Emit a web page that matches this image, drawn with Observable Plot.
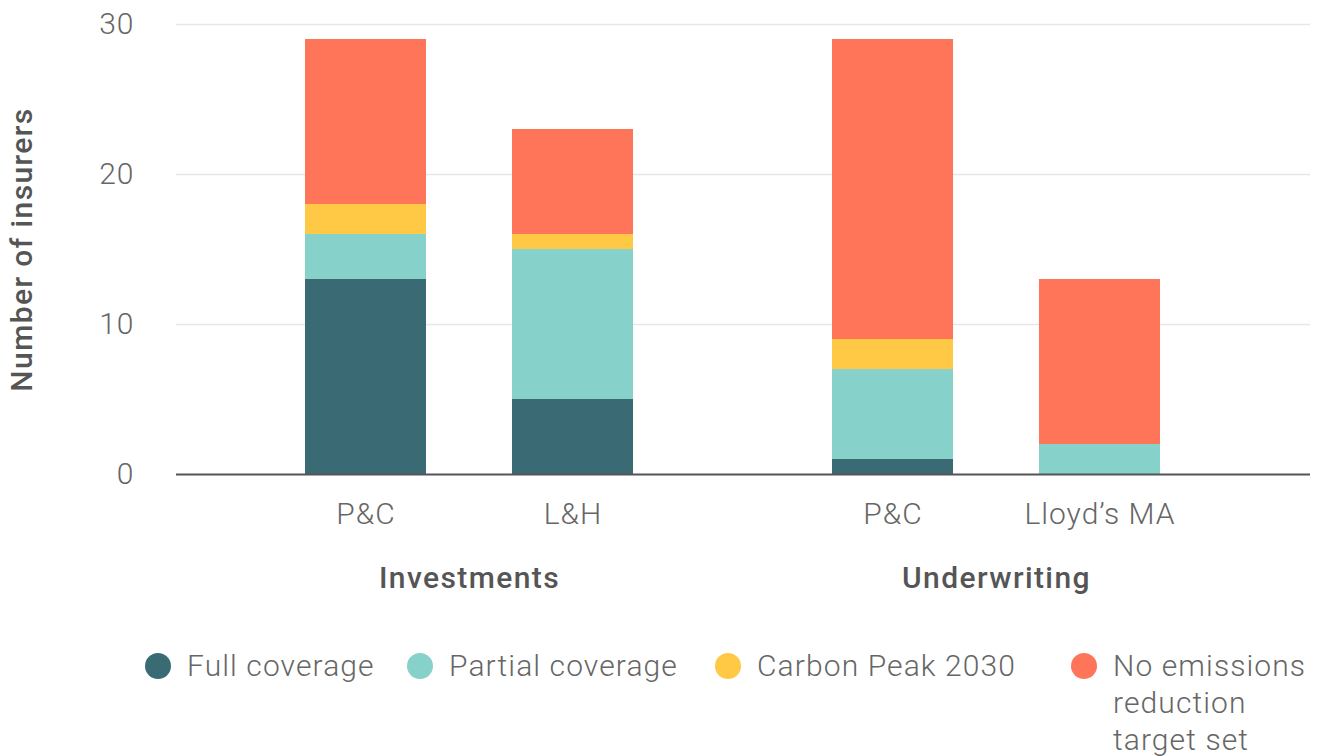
<!DOCTYPE html>
<html>
<head>
<meta charset="utf-8">
<script src="https://cdn.jsdelivr.net/npm/d3@7"></script>
<script src="https://cdn.jsdelivr.net/npm/@observablehq/plot@0.6"></script>
<style>
  body { margin: 0; background: #fff; font-family: Roboto, "Liberation Sans", sans-serif; }
  #chart svg { display: block; }
  #chart text { letter-spacing: 1px; }
  #chart text.bold, #chart .bold text { letter-spacing: 1.4px; }
  .legend { display: flex; align-items: flex-start; padding-left: 145px; margin-top: 27px; font-size: 30px; font-weight: 300; color: #666; line-height: 37px; letter-spacing: 1.1px; }
  .item { display: flex; align-items: flex-start; flex: none; }
  .item:nth-child(1) { width: 262px; }
  .item:nth-child(2) { width: 308px; }
  .item:nth-child(3) { width: 356px; }
  .item:last-child span:last-child { max-width: 200px; }
  .sw { width: 26px; height: 26px; border-radius: 50%; margin-top: 6px; margin-right: 16px; flex: none; }
</style>
</head>
<body>
<div id="chart"></div>
<div class="legend" id="legend"></div>
<script>
const groups = ["Investments", "Underwriting"];
const barGroups = ["Investments", "Investments", "Underwriting", "Underwriting"];
const barLabels = ["P&C", "L&H", "P&C", "Lloyd’s MA"];
const seriesNames = ["Full coverage", "Partial coverage", "Carbon Peak 2030", "No emissions reduction target set"];
const seriesColors = ["#3a6b75", "#86d1ca", "#ffc845", "#ff7559"];
const fullCoverage    = [13, 5, 1, 0];
const partialCoverage = [3, 10, 6, 2];
const carbonPeak      = [2, 1, 2, 0];
const noTarget        = [11, 7, 20, 11];
const yTicks = [0, 10, 20, 30];

const seriesValues = [fullCoverage, partialCoverage, carbonPeak, noTarget];

// layout: bars within a group 1 unit apart, extra gap between groups
const groupGap = 0.546;
const halfBar = 0.2923;
const pos = barLabels.map((_, i) => {
  const gi = groups.indexOf(barGroups[i]);
  const bi = barGroups.slice(0, i).filter(g => g === barGroups[i]).length;
  return bi + gi * (2 + groupGap);
});
const groupPos = groups.map(g => d3.mean(pos.filter((_, i) => barGroups[i] === g)));

const rects = [];
barLabels.forEach((lab, i) => {
  let acc = 0;
  seriesNames.forEach((s, k) => {
    const v = seriesValues[k][i];
    rects.push({x1: pos[i] - halfBar, x2: pos[i] + halfBar, y1: acc, y2: acc + v, series: s});
    acc += v;
  });
});
const barTable = barLabels.map((l, i) => ({x: pos[i], label: l}));
const groupTable = groups.map((g, i) => ({x: groupPos[i], label: g}));

const plot = Plot.plot({
  width: 1317,
  height: 620,
  marginLeft: 176,
  marginRight: 7,
  marginTop: 24,
  marginBottom: 146,
  style: {fontFamily: "Roboto, 'Liberation Sans', sans-serif", background: "#fff"},
  x: {domain: [-0.9155, 4.563], axis: null},
  y: {domain: [0, 30], axis: null},
  color: {domain: seriesNames, range: seriesColors},
  marks: [
    Plot.ruleY(yTicks.filter(d => d > 0), {stroke: "#e6e6e6", strokeWidth: 1.5}),
    Plot.rect(rects, {x1: "x1", x2: "x2", y1: "y1", y2: "y2", fill: "series"}),
    Plot.ruleY([0], {stroke: "#555", strokeWidth: 2}),
    Plot.text(yTicks, {y: d => d, text: d => String(d), frameAnchor: "left", dx: -42, textAnchor: "end", fontSize: 30, fontWeight: 300, fill: "#666"}),
    Plot.text(barTable, {x: "x", text: "label", frameAnchor: "bottom", dy: 49, fontSize: 30, fontWeight: 300, fill: "#666"}),
    Plot.text(groupTable, {x: "x", text: "label", frameAnchor: "bottom", dy: 113, fontSize: 30, fontWeight: 500, fill: "#555", className: "bold"}),
    Plot.text(["Number of insurers"], {frameAnchor: "left", dx: -154, rotate: -90, textAnchor: "middle", text: d => d, fontSize: 30, fontWeight: 500, fill: "#555", className: "bold"})
  ]
});
document.getElementById("chart").appendChild(plot);

const legend = document.getElementById("legend");
seriesNames.forEach((s, k) => {
  const it = document.createElement("div");
  it.className = "item";
  const sw = document.createElement("span");
  sw.className = "sw";
  sw.style.background = seriesColors[k];
  const tx = document.createElement("span");
  tx.textContent = s;
  it.appendChild(sw);
  it.appendChild(tx);
  legend.appendChild(it);
});
</script>
</body>
</html>
